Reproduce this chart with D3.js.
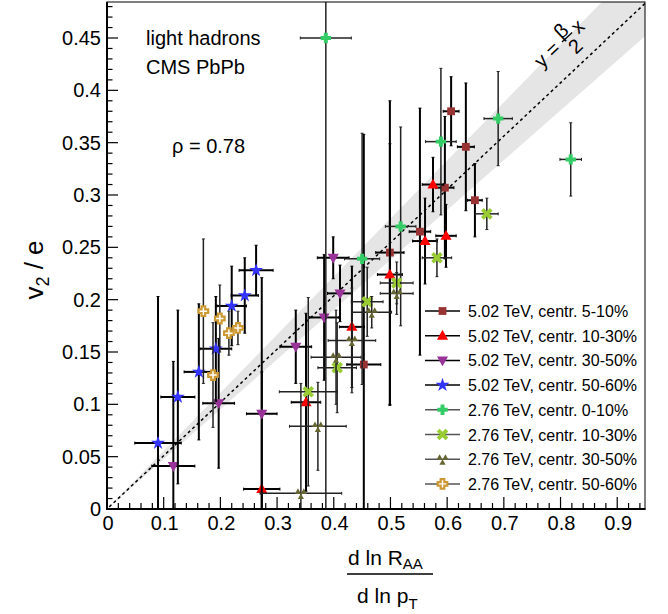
<!DOCTYPE html>
<meta charset="utf-8">
<script src="https://d3js.org/d3.v7.min.js"></script>
<style>
  body { margin: 0; background: #fff; }
  text { font-family: "Liberation Sans", Arial, Helvetica, sans-serif; fill: #000; }
</style>
<div id="chart"></div>
<script>

// Data: [x, y, ex, ey]
const s502_05_10 = [[0.453, 0.138, 0.030, 0.220], [0.499, 0.245, 0.025, 0.145], [0.552, 0.265, 0.019, 0.118],
  [0.596, 0.307, 0.016, 0.068], [0.607, 0.380, 0.014, 0.033], [0.633, 0.346, 0.015, 0.061], [0.649, 0.295, 0.013, 0.035]]
const s502_10_30 = [[0.273, 0.019, 0.032, 0.112], [0.351, 0.102, 0.026, 0.085], [0.432, 0.174, 0.022, 0.058],
  [0.499, 0.224, 0.022, 0.125], [0.561, 0.256, 0.022, 0.041], [0.575, 0.310, 0.019, 0.026], [0.598, 0.261, 0.018, 0.030]]
const s502_30_50 = [[0.117, 0.041, 0.038, 0.100], [0.197, 0.101, 0.028, 0.062], [0.273, 0.091, 0.027, 0.130],
  [0.333, 0.155, 0.028, 0.035], [0.383, 0.183, 0.026, 0.060], [0.411, 0.206, 0.022, 0.027], [0.399, 0.240, 0.028, 0.020]]
const s502_50_60 = [[0.090, 0.063, 0.041, 0.140], [0.125, 0.107, 0.030, 0.083], [0.162, 0.131, 0.026, 0.065],
  [0.192, 0.153, 0.028, 0.050], [0.220, 0.194, 0.026, 0.038], [0.243, 0.204, 0.024, 0.036], [0.263, 0.228, 0.030, 0.024]]
const s276_00_10 = [[0.386, 0.450, 0.045, 0.470], [0.450, 0.239, 0.031, 0.120], [0.518, 0.270, 0.027, 0.095],
  [0.589, 0.351, 0.027, 0.070], [0.690, 0.373, 0.025, 0.045], [0.818, 0.334, 0.019, 0.035]]
const s276_10_30 = [[0.355, 0.112, 0.051, 0.090], [0.406, 0.135, 0.034, 0.043], [0.459, 0.198, 0.028, 0.033],
  [0.511, 0.216, 0.029, 0.020], [0.582, 0.240, 0.026, 0.018], [0.670, 0.282, 0.020, 0.015]]
const s276_30_50 = [[0.342, 0.015, 0.072, 0.105], [0.372, 0.079, 0.050, 0.042], [0.404, 0.145, 0.044, 0.045],
  [0.432, 0.161, 0.042, 0.050], [0.467, 0.188, 0.035, 0.015], [0.511, 0.206, 0.029, 0.020]]
const s276_50_60 = [[0.170, 0.189, 0.004, 0.069], [0.187, 0.128, 0.004, 0.050], [0.199, 0.182, 0.004, 0.032],
  [0.215, 0.168, 0.004, 0.021], [0.231, 0.173, 0.004, 0.016]]

const legendLabels = ["5.02 TeV, centr. 5-10%", "5.02 TeV, centr. 10-30%", "5.02 TeV, centr. 30-50%",
  "5.02 TeV, centr. 50-60%", "2.76 TeV, centr. 0-10%", "2.76 TeV, centr. 10-30%",
  "2.76 TeV, centr. 30-50%", "2.76 TeV, centr. 50-60%"]

// fitted line y = beta/2 x and its band (slopes)
const lineSlope = 0.509
const bandSlopes = [0.476, 0.555]

const xTicks = d3.range(0, 0.91, 0.1)
const yTicks = d3.range(0, 0.451, 0.05)

const series = [
  { data: s502_05_10, color: "#993333", shape: "square", err: "#000", ew: 2 },
  { data: s502_10_30, color: "#ff0000", shape: "triUp", err: "#000", ew: 2 },
  { data: s502_30_50, color: "#993399", shape: "triDown", err: "#000", ew: 2 },
  { data: s502_50_60, color: "#3333ff", shape: "star", err: "#000", ew: 2 },
  { data: s276_00_10, color: "#33cc66", shape: "cross", err: "#222", ew: 1.5 },
  { data: s276_10_30, color: "#99cc33", shape: "xcross", err: "#222", ew: 1.5 },
  { data: s276_30_50, color: "#666633", shape: "tri3", err: "#222", ew: 1.5 },
  { data: s276_50_60, color: "#cc9933", shape: "openCross", err: "#222", ew: 1.5 }
]

const W = 668, H = 614
const frame = { left: 107, right: 645, top: 2, bottom: 509 }

const svg = d3.select("#chart").append("svg")
  .attr("width", W).attr("height", H)

const x = d3.scaleLinear().domain([0, 0.949]).range([frame.left, frame.right])
const y = d3.scaleLinear().domain([0, 0.4844]).range([frame.bottom, frame.top])

svg.append("clipPath").attr("id", "clip")
  .append("rect")
  .attr("x", frame.left).attr("y", frame.top)
  .attr("width", frame.right - frame.left).attr("height", frame.bottom - frame.top)

const plot = svg.append("g").attr("clip-path", "url(#clip)")

// band
const xEnd = 0.949
plot.append("path")
  .attr("d", `M${x(0)},${y(0)} L${x(xEnd)},${y(bandSlopes[1] * xEnd)} L${x(xEnd)},${y(bandSlopes[0] * xEnd)} Z`)
  .attr("fill", "#e5e5e5")

// dashed line
plot.append("line")
  .attr("x1", x(0.004)).attr("y1", y(lineSlope * 0.004))
  .attr("x2", x(xEnd)).attr("y2", y(lineSlope * xEnd))
  .attr("stroke", "#000").attr("stroke-width", 1.5)
  .attr("stroke-dasharray", "3,3")

// marker shapes
function shapePath(shape, r) {
  const a = r * 0.38
  switch (shape) {
    case "square": return `M${-r},${-r}h${2 * r}v${2 * r}h${-2 * r}Z`
    case "triUp": return `M0,${-r * 1.1}L${r * 1.05},${r * 0.75}L${-r * 1.05},${r * 0.75}Z`
    case "triDown": return `M0,${r * 1.1}L${r * 1.05},${-r * 0.75}L${-r * 1.05},${-r * 0.75}Z`
    case "star": return d3.symbol(d3.symbolStar, r * r * 2.4)()
    case "cross":
    case "openCross":
      return `M${-a},${-r}H${a}V${-a}H${r}V${a}H${a}V${r}H${-a}V${a}H${-r}V${-a}H${-a}Z`
    case "xcross": {
      const p = []
      const b = r * 0.3
      const pts = [[-b, -r], [b, -r], [b, -b], [r, -b], [r, b], [b, b], [b, r], [-b, r], [-b, b], [-r, b], [-r, -b], [-b, -b]]
      const c = Math.SQRT1_2
      pts.forEach(([px, py]) => p.push([(px - py) * c, (px + py) * c]))
      return "M" + p.map(d => d.join(",")).join("L") + "Z"
    }
    case "tri3": {
      const t = r * 0.58
      const tri = (cx, cy) => `M${cx},${cy - t}L${cx + t * 0.95},${cy + t * 0.7}L${cx - t * 0.95},${cy + t * 0.7}Z`
      return tri(-r * 0.52, -r * 0.3) + tri(r * 0.52, -r * 0.3) + tri(0, r * 0.6)
    }
  }
}

const markerR = { square: 3.9, triUp: 5.3, triDown: 5.3, star: 5, cross: 5.2, xcross: 6.3, tri3: 5.6, openCross: 4.8 }

function drawMarker(g, s, cx, cy) {
  const p = g.append("path")
    .attr("d", shapePath(s.shape, markerR[s.shape]))
    .attr("transform", `translate(${cx},${cy})`)
  if (s.shape === "openCross") {
    p.attr("fill", "#fff").attr("stroke", s.color).attr("stroke-width", 2.2)
  } else {
    p.attr("fill", s.color)
  }
}

// error bars + markers
series.forEach(function (s) {
  const g = plot.append("g")
  s.data.forEach(function (d) {
    const [vx, vy, ex, ey] = d
    const cx = x(vx), cy = y(vy)
    const xl = x(vx - ex), xr = x(vx + ex), yt = y(vy + ey), yb = y(Math.max(vy - ey, -0.05))
    g.append("line").attr("x1", xl).attr("x2", xr).attr("y1", cy).attr("y2", cy)
      .attr("stroke", s.err).attr("stroke-width", s.ew)
    g.append("line").attr("x1", cx).attr("x2", cx).attr("y1", yt).attr("y2", yb)
      .attr("stroke", s.err).attr("stroke-width", s.ew)
    // small end ticks
    ;[[xl, cy, 0], [xr, cy, 0], [cx, yt, 1], [cx, yb, 1]].forEach(function ([px, py, v]) {
      g.append("line")
        .attr("x1", v ? px - 1.5 : px).attr("x2", v ? px + 1.5 : px)
        .attr("y1", v ? py : py - 1.5).attr("y2", v ? py : py + 1.5)
        .attr("stroke", s.err).attr("stroke-width", 1)
    })
  })
  s.data.forEach(function (d) { drawMarker(g, s, x(d[0]), y(d[1])) })
})

// frame and axes
svg.append("rect")
  .attr("x", frame.left).attr("y", frame.top)
  .attr("width", frame.right - frame.left).attr("height", frame.bottom - frame.top)
  .attr("fill", "none").attr("stroke", "#000").attr("stroke-width", 1)

const axes = svg.append("g").attr("stroke", "#000")
axes.append("line").attr("x1", frame.left).attr("x2", frame.right + 0.5)
  .attr("y1", frame.bottom).attr("y2", frame.bottom).attr("stroke-width", 2)
axes.append("line").attr("x1", frame.left).attr("x2", frame.left)
  .attr("y1", frame.top).attr("y2", frame.bottom + 1).attr("stroke-width", 2)

d3.range(0, 0.949, 0.02).forEach(function (v) {
  const major = Math.abs(v * 10 - Math.round(v * 10)) < 1e-6
  axes.append("line").attr("x1", x(v)).attr("x2", x(v))
    .attr("y1", frame.bottom).attr("y2", frame.bottom - (major ? 12 : 6)).attr("stroke-width", 1.2)
})
d3.range(0, 0.484, 0.01).forEach(function (v) {
  const major = Math.abs(v * 20 - Math.round(v * 20)) < 1e-6
  axes.append("line").attr("y1", y(v)).attr("y2", y(v))
    .attr("x1", frame.left).attr("x2", frame.left + (major ? 11 : 5.5)).attr("stroke-width", 1.2)
})

const fmt = d => d3.format("~g")(+d.toFixed(2))

svg.append("g").selectAll("text").data(xTicks).join("text")
  .attr("x", d => x(d) + 1).attr("y", 530)
  .attr("text-anchor", "middle").attr("font-size", 20)
  .text(fmt)

svg.append("g").selectAll("text").data(yTicks).join("text")
  .attr("x", 101).attr("y", d => y(d) + 7)
  .attr("text-anchor", "end").attr("font-size", 20)
  .text(fmt)

// y title
const yt = svg.append("text")
  .attr("transform", "translate(43,270) rotate(-90)")
  .attr("text-anchor", "middle").attr("font-size", 26)
yt.append("tspan").text("v")
yt.append("tspan").attr("font-size", 18).attr("dy", 6).text("2")
yt.append("tspan").attr("dy", -6).text(" / e")

// x title: fraction
const num = svg.append("text").attr("x", 348).attr("y", 565).attr("font-size", 21)
num.append("tspan").text("d ln R")
num.append("tspan").attr("font-size", 15).attr("dy", 4).text("AA")
svg.append("line").attr("x1", 347).attr("x2", 433).attr("y1", 574).attr("y2", 574)
  .attr("stroke", "#000").attr("stroke-width", 1.5)
const den = svg.append("text").attr("x", 357).attr("y", 603).attr("font-size", 21)
den.append("tspan").text("d ln p")
den.append("tspan").attr("font-size", 15).attr("dy", 6).text("T")

// annotations
svg.append("text").attr("x", 146).attr("y", 45).attr("font-size", 20).text("light hadrons")
svg.append("text").attr("x", 146).attr("y", 74).attr("font-size", 20).text("CMS PbPb")
svg.append("text").attr("x", 172).attr("y", 153).attr("font-size", 20).text("ρ = 0.78")

// formula along the line
const ang = -Math.atan((y(0) - y(lineSlope)) / (x(1) - x(0))) * 180 / Math.PI
const fg = svg.append("g").attr("transform", `translate(542,69) rotate(${ang})`)
fg.append("text").attr("x", 0).attr("y", 0).attr("font-size", 20).text("y =")
fg.append("text").attr("x", 40).attr("y", -8).attr("font-size", 20).attr("text-anchor", "middle").text("β")
fg.append("line").attr("x1", 33).attr("x2", 47).attr("y1", -6).attr("y2", -6)
  .attr("stroke", "#000").attr("stroke-width", 1.3)
fg.append("text").attr("x", 40).attr("y", 13).attr("font-size", 20).attr("text-anchor", "middle").text("2")
fg.append("text").attr("x", 50).attr("y", 0).attr("font-size", 20).text("x")

// legend
const leg = svg.append("g")
series.forEach(function (s, i) {
  const ly = 311 + i * 24.7
  leg.append("line").attr("x1", 425).attr("x2", 460).attr("y1", ly).attr("y2", ly)
    .attr("stroke", i < 4 ? "#000" : "#555").attr("stroke-width", 1.5)
  drawMarker(leg, s, 442.5, ly)
  leg.append("text").attr("x", 468).attr("y", ly + 6).attr("font-size", 16).text(legendLabels[i])
})
</script>
